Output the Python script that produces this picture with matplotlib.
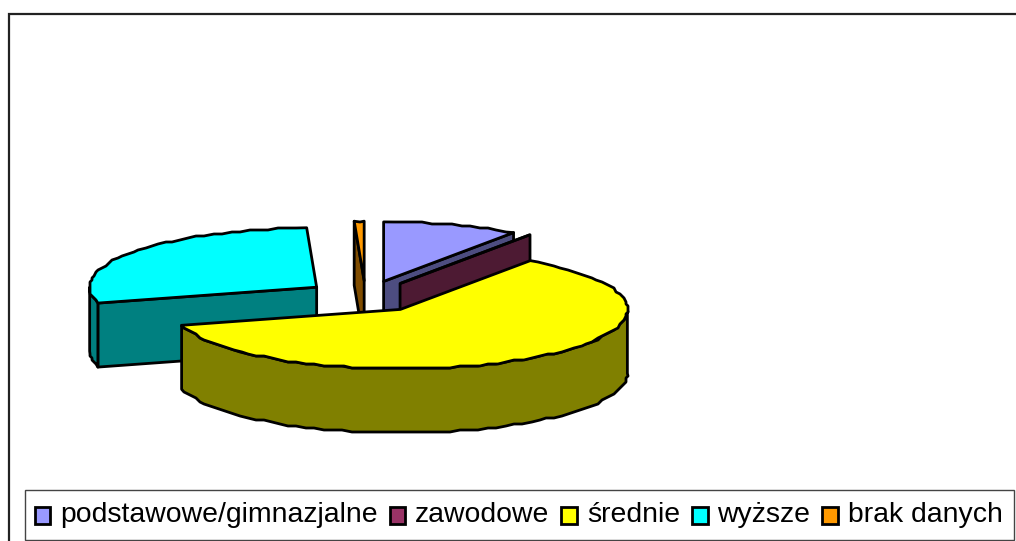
import numpy as np
import matplotlib
matplotlib.use('Agg')
import matplotlib.pyplot as plt
from matplotlib.patches import Polygon, Patch, Rectangle

# Shares of each education level, in percent
categories = ['podstawowe/gimnazjalne', 'zawodowe', 'średnie', 'wyższe', 'brak danych']
shares = [9.7, 0.0, 61.0, 28.6, 0.7]
colors = ['#9999ff', '#993366', '#ffff00', '#00ffff', '#ff9900']
dark_colors = ['#4d4d80', '#4d1a33', '#808000', '#008080', '#804d00']

# Pie geometry in pixels
CX, CY = 365.5, 296.5
RX, RY = 227.0, 59.5
DEPTH = 64.0
EXPLODE = 0.266
EDGE = 2.0
JAG = 2.0  # the rim is stepped in the original, not a smooth curve


def point(cx, cy, deg):
    # clockwise from the top of the ellipse
    rad = np.radians(deg)
    return cx + RX * np.sin(rad), cy - RY * np.cos(rad)


def arc(cx, cy, a, b):
    t = np.linspace(a, b, max(2, int((b - a) / 2.5) + 2))
    xs, ys = point(cx, cy, t)
    xs[1:-1] = np.round(xs[1:-1] / JAG) * JAG
    ys[1:-1] = np.round(ys[1:-1] / JAG) * JAG
    return xs, ys


def draw_slice(ax, start, end, face, dark, z):
    mid = (start + end) / 2
    ax_x, ax_y = point(0, 0, mid)
    x0, y0 = CX + EXPLODE * ax_x, CY + EXPLODE * ax_y

    # radial walls facing the viewer
    for deg, visible in ((start, np.sin(np.radians(start)) < -1e-6),
                         (end, np.sin(np.radians(end)) > 1e-6)):
        if visible:
            x1, y1 = point(x0, y0, deg)
            wall = [(x0, y0), (x1, y1), (x1, y1 + DEPTH), (x0, y0 + DEPTH)]
            ax.add_patch(Polygon(wall, closed=True, fc=dark, ec='black', lw=EDGE, zorder=z, joinstyle='round'))

    # outer rim, front half only
    a, b = max(start, 90), min(end, 270)
    if b > a:
        xs, ys = arc(x0, y0, a, b)
        rim = list(zip(xs, ys)) + list(zip(xs[::-1], ys[::-1] + DEPTH))
        ax.add_patch(Polygon(rim, closed=True, fc=dark, ec='black', lw=EDGE, zorder=z + 0.1, joinstyle='round'))

    # top face
    xs, ys = arc(x0, y0, start, end)
    top = [(x0, y0)] + list(zip(xs, ys))
    ax.add_patch(Polygon(top, closed=True, fc=face, ec='black', lw=EDGE, zorder=z + 0.2, joinstyle='round'))


fig = plt.figure(figsize=(10.16, 5.41), dpi=100)
ax = fig.add_axes([0, 0, 1, 1])
ax.set_xlim(0, 1016)
ax.set_ylim(541, 0)
ax.axis('off')

# Outer chart frame runs off the right and bottom of the picture
ax.add_patch(Rectangle((8.5, 14), 1100, 600, fc='white', ec='#222222', lw=1.6, zorder=0))

angles = np.concatenate(([0], np.cumsum(shares) * 3.6))
draw_order = [4, 0, 1, 3, 2]
for n, i in enumerate(draw_order):
    draw_slice(ax, angles[i], angles[i + 1], colors[i], dark_colors[i], 1 + n)

# Legend strip: box drawn apart so that its height does not follow the text
ax.add_patch(Rectangle((25, 490), 989, 50, fc='white', ec='#444444', lw=1.0, zorder=19))
handles = [Patch(fc=c, ec='black', lw=2.0) for c in colors]
leg = ax.legend(handles, categories, loc='center left',
                bbox_to_anchor=(34.5 / 1016, 1 - 514.5 / 541),
                bbox_transform=fig.transFigure, ncols=5, frameon=False,
                prop={'family': 'Liberation Sans', 'size': 20.4},
                handlelength=0.56, handleheight=0.56, handletextpad=0.34,
                columnspacing=0.42, borderaxespad=0, borderpad=0)
leg.set_zorder(20)
for p in leg.get_patches():
    p.set_y(p.get_y() - 2.9)

plt.savefig('out.png', dpi=100)
